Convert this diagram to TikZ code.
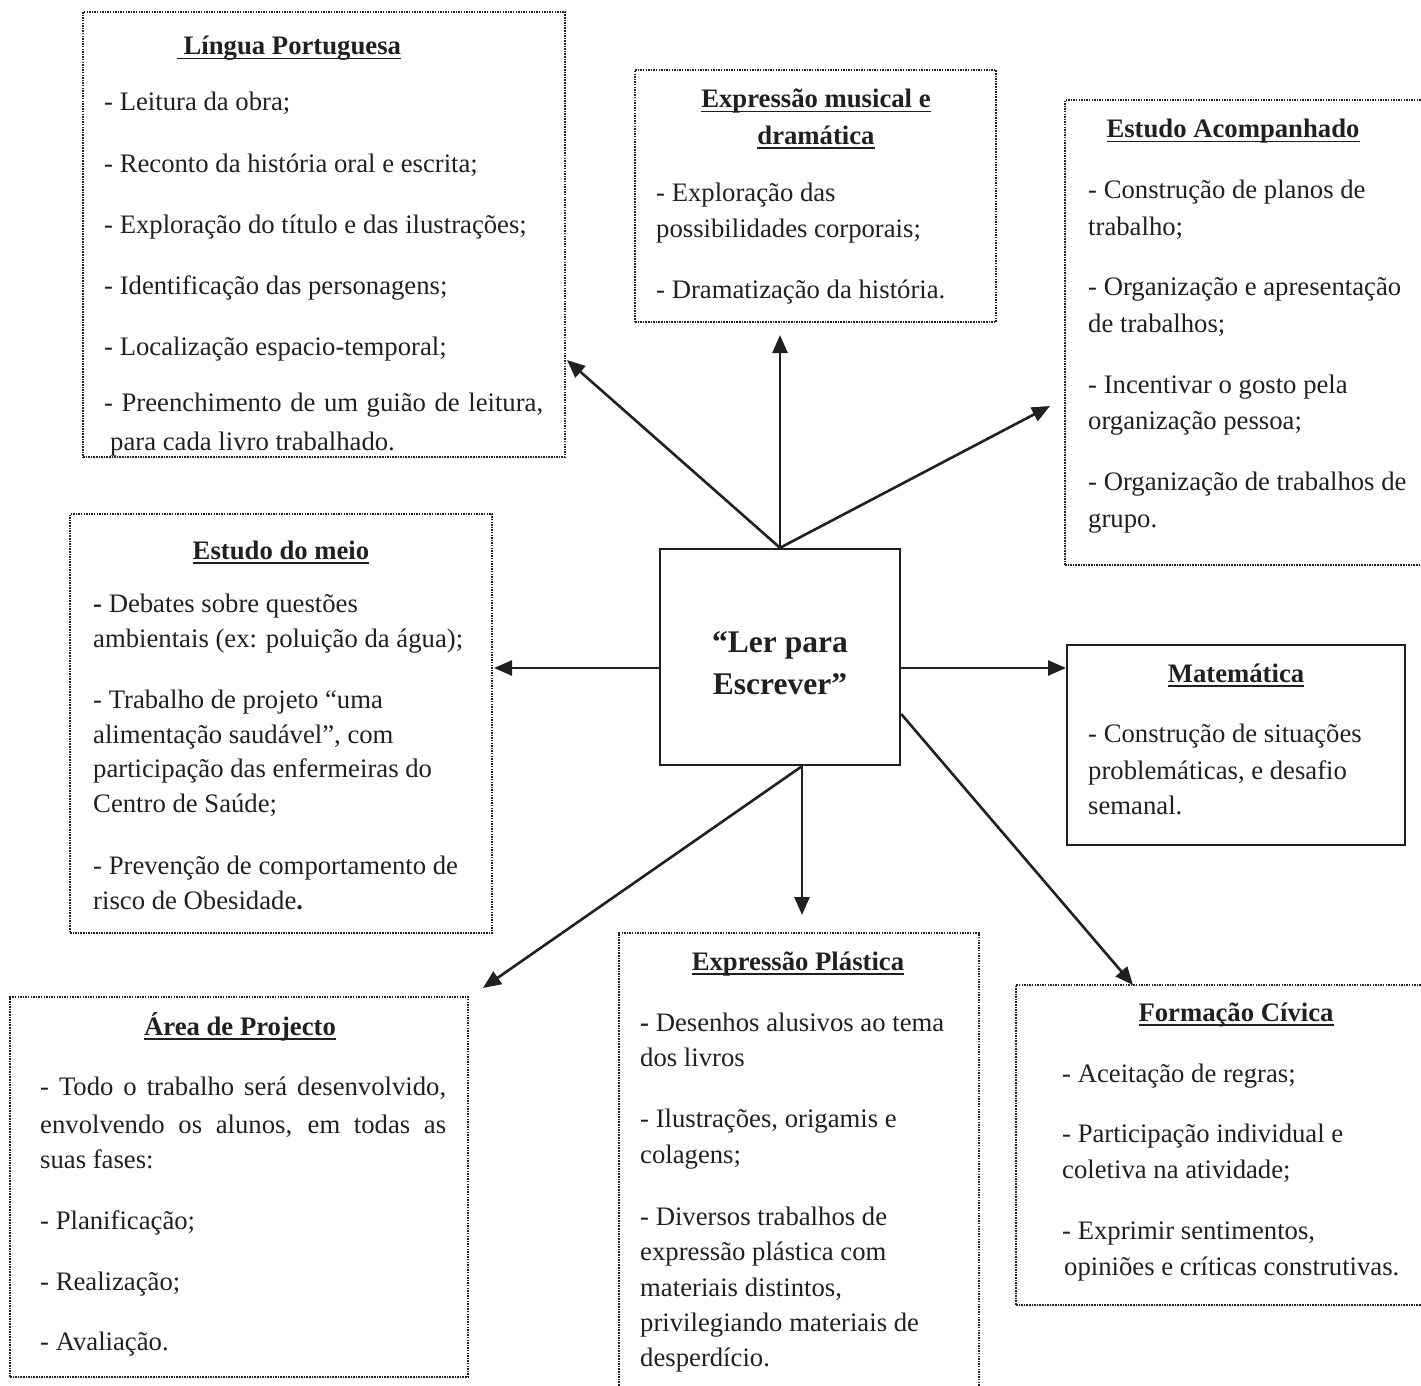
\documentclass[tikz,border=0pt]{standalone}
\usepackage{fontspec}
\setmainfont{Liberation Serif}
\usetikzlibrary{arrows.meta}
\definecolor{txtc}{RGB}{35,31,32}
\newsavebox\ulsave
\newcommand{\ulx}[1]{\sbox\ulsave{#1}\rlap{\rule[-4.5pt]{\wd\ulsave}{1.9pt}}\usebox\ulsave}
\newcommand{\bodyf}{\fontsize{26.7pt}{36pt}\selectfont}
\newcommand{\titlef}{\fontsize{26.7pt}{36pt}\selectfont\bfseries}
\newcommand{\centerf}{\fontsize{31.5pt}{42pt}\selectfont\bfseries}
\begin{document}
\begin{tikzpicture}[x=1pt,y=-1pt,
  dotbox/.style={draw=txtc, line width=1.5pt, dash pattern=on 1.5pt off 1.1pt, inner sep=0pt},
  solidbox/.style={draw=txtc, line width=2.4pt, inner sep=0pt},
  txt/.style={anchor=base west, inner sep=0pt, font=\bodyf, text=txtc},
  ttl/.style={anchor=base, inner sep=0pt, font=\titlef, text=txtc},
  ctxt/.style={anchor=base, inner sep=0pt, font=\centerf, text=txtc},
  arr/.style={draw=txtc, line width=2.6pt, -{Triangle[length=18pt,width=15pt]}}]
\clip (0,0) rectangle (1421,1386);
% boxes
\node[dotbox, minimum width=482pt, minimum height=445pt] (lp) at (324,234.5) {};
\node[dotbox, minimum width=361pt, minimum height=252pt] (em) at (815.5,196) {};
\node[dotbox, minimum width=360pt, minimum height=465pt] (ea) at (1245,332.5) {};
\node[dotbox, minimum width=422pt, minimum height=419pt] (edm) at (281,723.5) {};
\node[solidbox, minimum width=240pt, minimum height=216pt] (ctr) at (780,657) {};
\node[solidbox, minimum width=338pt, minimum height=200pt] (mat) at (1236,745) {};
\node[dotbox, minimum width=458pt, minimum height=380pt] (ap) at (239,1187) {};
\node[dotbox, minimum width=360pt, minimum height=467pt] (ep) at (799,1166.5) {};
\node[dotbox, minimum width=409pt, minimum height=320pt] (fc) at (1220.5,1145) {};
% centre text
\node[ctxt] (c1) at (780,652) {“Ler para};
\node[ctxt] (c2) at (780,694) {Escrever”};
% connector ends
\coordinate (cN) at (ctr.north);
\coordinate (cW) at ([yshift=-11pt]ctr.west);
\coordinate (cE) at ([yshift=-11pt]ctr.east);
\coordinate (cE2) at ([yshift=-57pt]ctr.east);
\coordinate (cS) at ([xshift=22pt]ctr.south);
\coordinate (tLP) at (567,360);
\coordinate (tEM) at (780,335);
\coordinate (tEA) at (1050,406);
\coordinate (tEdM) at (494,668);
\coordinate (tMat) at (1066,668);
\coordinate (tFC) at (1133,985);
\coordinate (tEP) at (802,915);
\coordinate (tAP) at (483,988);
\draw[arr] (cN) -- (tLP);
\draw[arr] (cN) -- (tEM);
\draw[arr] (cN) -- (tEA);
\draw[arr] (cW) -- (tEdM);
\draw[arr] (cE) -- (tMat);
\draw[arr] (cE2) -- (tFC);
\draw[arr] (cS) -- (tEP);
\draw[arr] (cS) -- (tAP);
% Lingua Portuguesa
\node[ttl] (lpt) at (289,55) {\ulx{ Língua Portuguesa}};
\node[txt] (lp1) at (104,111) {- Leitura da obra;};
\node[txt] (lp2) at (104,172) {- Reconto da história oral e escrita;};
\node[txt] (lp3) at (104,233) {- Exploração do título e das ilustrações;};
\node[txt] (lp4) at (104,294) {- Identificação das personagens;};
\node[txt] (lp5) at (104,355) {- Localização espacio-temporal;};
\node[txt] (lp6) at (104,411) {\makebox[439pt][s]{- Preenchimento de um guião de leitura,}};
\node[txt] (lp7) at (110,450) {para cada livro trabalhado.};
% Expressao musical
\node[ttl] (emt1) at (816,108) {\ulx{Expressão musical e}};
\node[ttl] (emt2) at (816,144) {\ulx{dramática}};
\node[txt] (em1) at (656,201) {- Exploração das};
\node[txt] (em2) at (656,237) {possibilidades corporais;};
\node[txt] (em3) at (656,298) {- Dramatização da história.};
% Estudo Acompanhado
\node[ttl] (eat) at (1233,138) {\ulx{Estudo Acompanhado}};
\node[txt] (ea1) at (1088,198) {- Construção de planos de};
\node[txt] (ea2) at (1088,235) {trabalho;};
\node[txt] (ea3) at (1088,295) {- Organização e apresentação};
\node[txt] (ea4) at (1088,332) {de trabalhos;};
\node[txt] (ea5) at (1088,393) {- Incentivar o gosto pela};
\node[txt] (ea6) at (1088,429) {organização pessoa;};
\node[txt] (ea7) at (1088,490) {- Organização de trabalhos de};
\node[txt] (ea8) at (1088,527) {grupo.};
% Estudo do meio
\node[ttl] (edmt) at (281,559) {\ulx{Estudo do meio}};
\node[txt] (edm1) at (93,612) {\textbf{-} Debates sobre questões};
\node[txt] (edm2) at (93,647) {ambientais (ex: poluição da água);};
\node[txt] (edm3) at (93,708) {- Trabalho de projeto “uma};
\node[txt] (edm4) at (93,743) {alimentação saudável”, com};
\node[txt] (edm5) at (93,777) {participação das enfermeiras do};
\node[txt] (edm6) at (93,812) {Centro de Saúde;};
\node[txt] (edm7) at (93,874) {- Prevenção de comportamento de};
\node[txt] (edm8) at (93,909) {risco de Obesidade\textbf{.}};
% Matematica
\node[ttl] (matt) at (1236,682) {\ulx{Matemática}};
\node[txt] (mat1) at (1088,742) {- Construção de situações};
\node[txt] (mat2) at (1088,779) {problemáticas, e desafio};
\node[txt] (mat3) at (1088,814) {semanal.};
% Area de Projecto
\node[ttl] (apt) at (240,1035) {\ulx{Área de Projecto}};
\node[txt] (ap1) at (40,1095) {\makebox[406pt][s]{- Todo o trabalho será desenvolvido,}};
\node[txt] (ap2) at (40,1133) {\makebox[406pt][s]{envolvendo os alunos, em todas as}};
\node[txt] (ap3) at (40,1168) {suas fases:};
\node[txt] (ap4) at (40,1229) {- Planificação;};
\node[txt] (ap5) at (40,1290) {- Realização;};
\node[txt] (ap6) at (40,1350) {- Avaliação.};
% Expressao Plastica
\node[ttl] (ept) at (798,970) {\ulx{Expressão Plástica}};
\node[txt] (ep1) at (640,1031) {\textbf{-} Desenhos alusivos ao tema};
\node[txt] (ep2) at (640,1066) {dos livros};
\node[txt] (ep3) at (640,1127) {- Ilustrações, origamis e};
\node[txt] (ep4) at (640,1163) {colagens;};
\node[txt] (ep5) at (640,1225) {- Diversos trabalhos de};
\node[txt] (ep6) at (640,1260) {expressão plástica com};
\node[txt] (ep7) at (640,1296) {materiais distintos,};
\node[txt] (ep8) at (640,1331) {privilegiando materiais de};
\node[txt] (ep9) at (640,1366) {desperdício.};
% Formacao Civica
\node[ttl] (fct) at (1236,1021) {\ulx{Formação Cívica}};
\node[txt] (fc1) at (1062,1082) {- Aceitação de regras;};
\node[txt] (fc2) at (1062,1142) {- Participação individual e};
\node[txt] (fc3) at (1062,1178) {coletiva na atividade;};
\node[txt] (fc4) at (1062,1239) {- Exprimir sentimentos,};
\node[txt] (fc5) at (1064,1275) {opiniões e críticas construtivas.};
\end{tikzpicture}
\end{document}
